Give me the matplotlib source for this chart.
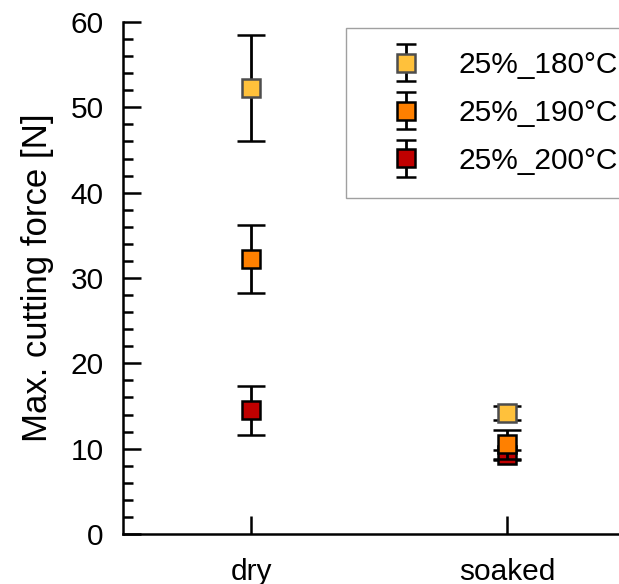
import numpy as np
import matplotlib.pyplot as plt
from matplotlib.ticker import MultipleLocator
from matplotlib.legend_handler import HandlerErrorbar

plt.rcParams['font.family'] = ['Liberation Sans', 'DejaVu Sans']

# Data
conditions = ['dry', 'soaked']
labels = ['25%_180°C', '25%_190°C', '25%_200°C']
force_180 = [52.3, 14.2]
err_180 = [6.2, 0.8]
force_190 = [32.2, 10.5]
err_190 = [4.0, 1.7]
force_200 = [14.5, 9.3]
err_200 = [2.9, 0.6]

colors = ['#FFC13B', '#FF8000', '#C00000']
edges = ['#4D4D4D', 'black', 'black']

fig = plt.figure(figsize=(6.19, 5.84), dpi=100)
ax = fig.add_axes([123/619, 1-534/584, 512/619, 512/584])

x = [1, 2]
series = [(force_180, err_180), (force_190, err_190), (force_200, err_200)]
handles = []
for i, (vals, errs) in enumerate(series):
    ax.errorbar(x, vals, yerr=errs, fmt='s', color='black', ecolor='black',
                elinewidth=2, capsize=10, capthick=2,
                markersize=12.5, markerfacecolor=colors[i],
                markeredgecolor=edges[i], markeredgewidth=1.8,
                zorder=5 - i)
    # legend proxy with smaller caps
    h = ax.errorbar([np.nan], [np.nan], yerr=[1.0], fmt='s', color='black',
                    ecolor='black', elinewidth=2, capsize=7, capthick=2,
                    markersize=12.5, markerfacecolor=colors[i],
                    markeredgecolor=edges[i], markeredgewidth=1.8)
    handles.append(h)

ax.set_xlim(0.5, 2.5)
ax.set_ylim(0, 60)
ax.set_xticks(x)
ax.set_xticklabels(conditions)
ax.yaxis.set_major_locator(MultipleLocator(10))
ax.yaxis.set_minor_locator(MultipleLocator(2))

ax.spines['top'].set_visible(False)
ax.spines['right'].set_visible(False)
ax.spines['left'].set_linewidth(1.8)
ax.spines['bottom'].set_linewidth(1.8)

ax.tick_params(axis='both', which='major', direction='in', length=13, width=1.8,
               labelsize=21.5)
ax.tick_params(axis='y', which='major', pad=14)
ax.tick_params(axis='x', which='major', pad=17)
ax.tick_params(axis='y', which='minor', direction='in', length=7, width=1.8)

ax.set_ylabel('Max. cutting force [N]', fontsize=25)
ax.yaxis.set_label_coords(-0.135, 0.5)

leg = ax.legend(handles=handles, labels=labels, loc='upper left',
                bbox_to_anchor=(346/619, 1-28/584), bbox_transform=fig.transFigure,
                fontsize=21.5, numpoints=1, frameon=True, fancybox=False,
                borderpad=0.78, labelspacing=0.66, handlelength=2.45,
                handletextpad=0.55, borderaxespad=0,
                handler_map={type(handles[0]): HandlerErrorbar(yerr_size=0.62)})
leg.get_frame().set_edgecolor('#888888')
leg.get_frame().set_linewidth(1.0)

fig.savefig('out.png', dpi=100)
